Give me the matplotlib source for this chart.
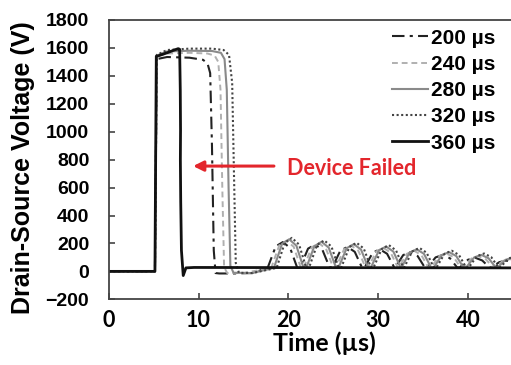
import matplotlib
matplotlib.use("Agg")
import matplotlib.pyplot as plt

# ---- waveform data: time in µs, drain-source voltage in V ----
t_200 = [0, 5.15, 5.35, 6.5, 9.0, 10.5, 11.0, 11.3, 11.5, 11.7, 11.9, 12.3, 14.0, 16.0,
         17.7, 18.6, 19.4, 20.2, 21.0,
         21.3, 22.2, 23.0, 23.8, 24.6,
         24.9, 25.8, 26.6, 27.4, 28.2,
         28.5, 29.4, 30.2, 31.0, 31.8,
         31.9, 32.8, 33.6, 34.4, 35.2,
         35.5, 36.4, 37.2, 38.0, 38.8,
         39.1, 40.0, 40.8, 41.6, 42.4,
         42.6, 43.5, 44.3, 45.1]
v_200 = [0, 0, 1520, 1535, 1530, 1515, 1490, 1420, 900, 150, -12, -15, -15, -12,
         25, 179, 210, 168, 25,
         25, 163, 192, 154, 28,
         28, 149, 175, 140, 28,
         28, 134, 158, 126, 28,
         28, 117, 138, 110, 28,
         28, 100, 118, 94, 28,
         28, 83, 98, 78, 28,
         28, 66, 78, 62]

t_240 = [0, 5.15, 5.35, 6.5, 9.0, 11.0, 11.8, 12.2, 12.45, 12.65, 12.85, 13.2, 15.0,
         18.1, 19.0, 19.8, 20.6, 21.4,
         21.7, 22.6, 23.4, 24.2, 25.0,
         25.3, 26.2, 27.0, 27.8, 28.6,
         28.9, 29.8, 30.6, 31.4, 32.2,
         32.3, 33.2, 34.0, 34.8, 35.6,
         35.9, 36.8, 37.6, 38.4, 39.2,
         39.5, 40.4, 41.2, 42.0, 42.8,
         43.0, 43.9, 44.7, 45.5]
v_240 = [0, 0, 1540, 1560, 1565, 1560, 1545, 1500, 1300, 600, 30, -12, -12,
         25, 187, 220, 176, 25,
         25, 172, 202, 162, 28,
         28, 157, 185, 148, 28,
         28, 143, 168, 134, 28,
         28, 126, 148, 118, 28,
         28, 109, 128, 102, 28,
         28, 92, 108, 86, 28,
         28, 75, 88, 70]

t_280 = [0, 5.15, 5.35, 6.5, 9.0, 11.5, 12.5, 12.9, 13.15, 13.35, 13.55, 13.9, 16.0,
         18.4, 19.3, 20.1, 20.9, 21.7,
         22.0, 22.9, 23.7, 24.5, 25.3,
         25.6, 26.5, 27.3, 28.1, 28.9,
         29.2, 30.1, 30.9, 31.7, 32.5,
         32.6, 33.5, 34.3, 35.1, 35.9,
         36.2, 37.1, 37.9, 38.7, 39.5,
         39.8, 40.7, 41.5, 42.3, 43.1,
         43.3, 44.2, 45.0]
v_280 = [0, 0, 1545, 1575, 1580, 1578, 1565, 1520, 1300, 600, 40, -10, -12,
         25, 196, 230, 184, 25,
         25, 180, 212, 170, 28,
         28, 166, 195, 156, 28,
         28, 151, 178, 142, 28,
         28, 134, 158, 126, 28,
         28, 117, 138, 110, 28,
         28, 100, 118, 94, 28,
         28, 83, 98]

t_320 = [0, 5.15, 5.35, 6.5, 9.0, 11.5, 12.8, 13.4, 13.75, 13.95, 14.15, 14.5, 16.0,
         18.7, 19.6, 20.4, 21.2, 22.0,
         22.3, 23.2, 24.0, 24.8, 25.6,
         25.9, 26.8, 27.6, 28.4, 29.2,
         29.5, 30.4, 31.2, 32.0, 32.8,
         32.9, 33.8, 34.6, 35.4, 36.2,
         36.5, 37.4, 38.2, 39.0, 39.8,
         40.1, 41.0, 41.8, 42.6, 43.4,
         43.6, 44.5, 45.3]
v_320 = [0, 0, 1550, 1585, 1595, 1595, 1585, 1550, 1350, 700, 60, -10, -12,
         25, 204, 240, 192, 25,
         25, 189, 222, 178, 28,
         28, 174, 205, 164, 28,
         28, 160, 188, 150, 28,
         28, 143, 168, 134, 28,
         28, 126, 148, 118, 28,
         28, 109, 128, 102, 28,
         28, 92, 108]

t_360 = [0, 5.15, 5.3, 5.6, 6.5, 7.3, 7.75, 7.9, 7.97, 8.0, 7.98, 8.02, 8.1, 8.3, 8.6, 9.5, 45.0]
v_360 = [0, 0, 1540, 1545, 1565, 1585, 1595, 1590, 1300, 1010, 800, 500, 150, -30, 25, 28, 25]

labels = ["200 µs", "240 µs", "280 µs", "320 µs", "360 µs"]
yticks = [-200, 0, 200, 400, 600, 800, 1000, 1200, 1400, 1600, 1800]
xticks = [0, 10, 20, 30, 40]

W, H = 511, 365
fig = plt.figure(figsize=(W / 100, H / 100), dpi=100)
ax_left, ax_bottom = 108.7 / W, (H - 299.3) / H
ax_w, ax_h = 1.02 - ax_left, (299.3 - 20) / H
ax = fig.add_axes([ax_left, ax_bottom, ax_w, ax_h])
AW, AH = ax_w * W, ax_h * H

ax.plot(t_200, v_200, color="#222222", lw=1.5, ls=(0, (6, 2.5, 1.5, 2.5)), label=labels[0])
ax.plot(t_240, v_240, color="#b0b0b0", lw=1.4, ls=(0, (3, 2)), label=labels[1])
ax.plot(t_280, v_280, color="#8a8a8a", lw=1.5, ls="-", label=labels[2])
ax.plot(t_320, v_320, color="#444444", lw=1.5, ls=(0, (1, 1.2)), label=labels[3])
ax.plot(t_360, v_360, color="#111111", lw=2.0, ls="-", label=labels[4])

xlim_max = (W * 1.02 - 108.7) / 8.98
ax.set_xlim(0, xlim_max)
ax.set_ylim(-200, 1800)
ax.set_xticks(xticks)
ax.set_yticks(yticks)

for s in ax.spines.values():
    s.set_color("#444444")
    s.set_linewidth(1.3)

ax.tick_params(axis="both", direction="in", length=4, width=1.2, color="#444444",
               top=False, right=False)
ax.tick_params(axis="y", pad=14)
ax.tick_params(axis="x", pad=8)
for lbl in ax.get_yticklabels():
    lbl.set_fontfamily("Liberation Sans")
    lbl.set_fontweight("bold")
    lbl.set_fontsize(14)
for lbl in ax.get_xticklabels():
    lbl.set_fontfamily("Lato")
    lbl.set_fontweight("bold")
    lbl.set_fontsize(15.5)

ax.set_xlabel("Time (µs)", fontfamily="Lato", fontweight="bold", fontsize=18)
ax.xaxis.set_label_coords((324.7 - 108.7) / AW, (299.3 - 331) / AH)
ax.set_ylabel("Drain-Source Voltage (V)", fontfamily="Liberation Sans",
              fontweight="bold", fontsize=18)
ax.yaxis.set_label_coords((35 - 108.7) / AW, (299.3 - 168) / AH)

leg = ax.legend(loc="upper left", bbox_to_anchor=((379.5 - 108.7) / AW, (299.3 - 16) / AH),
                frameon=False, handlelength=1.75, handletextpad=0.1,
                labelspacing=0.35, borderaxespad=0.2,
                prop={"family": "Liberation Sans", "weight": "bold", "size": 15})

ax.annotate("", xy=(9.4, 754), xytext=(18.4, 754),
            arrowprops=dict(arrowstyle="-|>,head_length=0.6,head_width=0.3",
                            color="#e3262c", lw=2.2, shrinkA=0, shrinkB=0))
ax.text(27.0, 740, "Device Failed", color="#e3262c", fontfamily="Lato",
        fontweight="bold", fontsize=15.5, ha="center", va="center")

fig.savefig("out.png", dpi=100)
